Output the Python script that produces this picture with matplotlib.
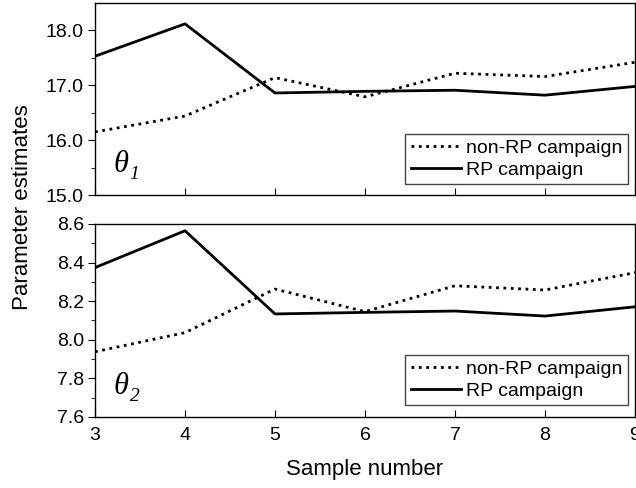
import matplotlib.pyplot as plt

plt.rcParams['font.family'] = ['Liberation Sans', 'DejaVu Sans']

samples = [3, 4, 5, 6, 7, 8, 9]
theta1_nonrp = [16.15, 16.44, 17.14, 16.79, 17.22, 17.16, 17.42]
theta1_rp = [17.53, 18.12, 16.86, 16.89, 16.91, 16.82, 16.98]
theta2_nonrp = [7.938, 8.037, 8.263, 8.146, 8.28, 8.258, 8.348]
theta2_rp = [8.374, 8.565, 8.134, 8.142, 8.149, 8.123, 8.171]

fig = plt.figure(figsize=(6.36, 4.88), dpi=100)
ax1 = fig.add_axes([0.1494, 0.6004, 0.849, 0.3934])
ax2 = fig.add_axes([0.1494, 0.1455, 0.849, 0.3955])


def style_axis(ax, ylim, major, minor):
    ax.set_xlim(3, 9)
    ax.set_ylim(*ylim)
    ax.set_yticks(major)
    ax.set_yticks(minor, minor=True)
    ax.set_xticks(samples)
    ax.tick_params(axis='y', which='major', direction='out', length=5, labelsize=14, pad=3)
    ax.tick_params(axis='y', which='minor', direction='out', length=3)
    ax.tick_params(axis='x', which='major', direction='in', length=5, labelsize=14, pad=7)
    for s in ax.spines.values():
        s.set_linewidth(1.0)


def theta_label(ax, sub):
    # theta and its subscript, both italic serif
    ax.text(0.035, 0.12, 'θ', transform=ax.transAxes, fontsize=22,
            family='Liberation Serif', style='italic')
    ax.text(0.064, 0.085, sub, transform=ax.transAxes, fontsize=14,
            family='Liberation Serif', style='italic')


ax1.plot(samples, theta1_nonrp, color='black', ls=':', lw=2, label='non-RP campaign')
ax1.plot(samples, theta1_rp, color='black', ls='-', lw=2, label='RP campaign')
style_axis(ax1, (15.0, 18.5), [15, 16, 17, 18], [15.5, 16.5, 17.5])
ax1.set_yticklabels(['15.0', '16.0', '17.0', '18.0'])
ax1.tick_params(axis='x', labelbottom=False)
theta_label(ax1, '1')

ax2.plot(samples, theta2_nonrp, color='black', ls=':', lw=2, label='non-RP campaign')
ax2.plot(samples, theta2_rp, color='black', ls='-', lw=2, label='RP campaign')
style_axis(ax2, (7.6, 8.6), [7.6, 7.8, 8.0, 8.2, 8.4, 8.6], [7.7, 7.9, 8.1, 8.3, 8.5])
ax2.set_yticklabels(['7.6', '7.8', '8.0', '8.2', '8.4', '8.6'])
theta_label(ax2, '2')
ax2.set_xlabel('Sample number', fontsize=16, labelpad=11)

for ax, y0 in [(ax1, 0.057), (ax2, 0.06)]:
    leg = ax.legend(loc='lower right', bbox_to_anchor=(0.987, y0), borderaxespad=0,
                    fontsize=14, fancybox=False, framealpha=1, handlelength=2.6,
                    handletextpad=0.25, labelspacing=0.22, borderpad=0.28)
    leg.get_frame().set_edgecolor('#444444')
    leg.get_frame().set_linewidth(1.0)

fig.text(0.035, 0.575, 'Parameter estimates', rotation=90, ha='center', va='center', fontsize=16)

fig.savefig('out.png', dpi=100)
